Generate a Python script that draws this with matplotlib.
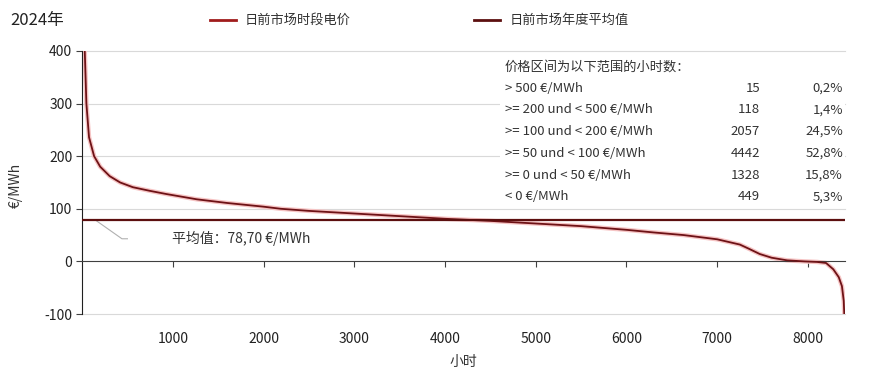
import matplotlib
matplotlib.use("Agg")
import matplotlib.pyplot as plt

plt.rcParams['font.family'] = ['Noto Sans CJK SC', 'DejaVu Sans']

# price duration curve, hours sorted by price
hours = [0, 15, 30, 48, 77, 133, 200, 305, 420, 560, 750, 930, 1265, 1600,
         2000, 2190, 2500, 3000, 3500, 4000, 4500, 5000, 5500, 6000, 6300,
         6632, 7000, 7250, 7350, 7470, 7600, 7770, 7960, 8100, 8200, 8280,
         8340, 8375, 8395, 8409]
prices = [800, 500, 400, 300, 236, 200, 180, 162, 150, 141, 134, 128, 118, 111,
          104, 100, 96, 91, 86, 81, 77, 72, 67, 60, 55,
          50, 42, 32, 24, 14, 7, 2, 0, -1, -3, -15,
          -30, -47, -75, -135]
avg_price = 78.70

bands = ['> 500 €/MWh', '>= 200 und < 500 €/MWh', '>= 100 und < 200 €/MWh',
         '>= 50 und < 100 €/MWh', '>= 0 und < 50 €/MWh', '< 0 €/MWh']
band_hours = [15, 118, 2057, 4442, 1328, 449]
band_share = ['0,2%', '1,4%', '24,5%', '52,8%', '15,8%', '5,3%']

xticks = [1000, 2000, 3000, 4000, 5000, 6000, 7000, 8000]
yticks = [-100, 0, 100, 200, 300, 400]

line_col = '#6e1216'
avg_col = '#5c0f0f'
txt = '#333333'

fig = plt.figure(figsize=(8.69, 3.69), dpi=100)
ax = fig.add_axes([0.0944, 0.149, 0.878, 0.713])

ax.set_xlim(0, sum(band_hours))
ax.set_ylim(-100, 400)
for y in [100, 200, 300, 400, -100]:
    ax.axhline(y, color='#d9d9d9', lw=0.8, zorder=0, clip_on=False)

ax.plot(hours, prices, color='#f6c4c4', lw=3.2, solid_capstyle='butt', zorder=2)
ax.plot(hours, prices, color=line_col, lw=1.3, zorder=3)
ax.axhline(avg_price, color=avg_col, lw=1.6, zorder=4)

for s in ['top', 'right']:
    ax.spines[s].set_visible(False)
ax.spines['bottom'].set_position(('data', 0))
ax.spines['bottom'].set_color('#404040')
ax.spines['left'].set_color('#202020')

ax.set_xticks(xticks)
ax.set_xticklabels([str(t) for t in xticks])
ax.set_yticks(yticks)
ax.set_yticklabels([str(t) for t in yticks])
ax.tick_params(axis='x', direction='out', length=4, pad=47, labelsize=10,
               colors='#404040', labelcolor='#222222')
ax.tick_params(axis='y', direction='out', length=4, pad=3, labelsize=10,
               colors='#404040', labelcolor='#222222')

ax.set_xlabel('小时', fontsize=10, color=txt, labelpad=6)
ax.set_ylabel('€/MWh', fontsize=10, color=txt, labelpad=6)
ax.yaxis.set_label_coords(-0.078, 0.49)

# average label with leader line
ax.plot([160, 440, 500], [77, 43, 43], color='#b0b0b0', lw=0.8, zorder=1)
ax.text(990, 43, '平均值：78,70 €/MWh', fontsize=10, color=txt, va='center')

# table of hours per price band
fig.patches.append(plt.Rectangle((500 / 869, 1 - 206 / 369), 345 / 869, 152 / 369,
                                 transform=fig.transFigure, facecolor='white',
                                 edgecolor='none', zorder=5))
fig.text(505 / 869, 1 - 67 / 369, '价格区间为以下范围的小时数：', fontsize=9.5,
         color=txt, va='center', zorder=6)
for i, (b, h, s) in enumerate(zip(bands, band_hours, band_share)):
    y = 1 - (88 + i * 21.8) / 369
    fig.text(505 / 869, y, b, fontsize=9.5, color=txt, va='center', zorder=6)
    fig.text(760 / 869, y, str(h), fontsize=9.5, color=txt, va='center',
             ha='right', zorder=6)
    fig.text(843 / 869, y, s, fontsize=9.5, color=txt, va='center',
             ha='right', zorder=6)

# title and legend
fig.text(10 / 869, 1 - 20 / 369, '2024年', fontsize=12, color='#222222', va='center')
fig.lines.append(plt.Line2D([210 / 869, 236 / 869], [1 - 20 / 369] * 2,
                            transform=fig.transFigure, color='#a01c1c', lw=2))
fig.text(245 / 869, 1 - 20 / 369, '日前市场时段电价', fontsize=9.5, color=txt, va='center')
fig.lines.append(plt.Line2D([474 / 869, 500 / 869], [1 - 20 / 369] * 2,
                            transform=fig.transFigure, color=avg_col, lw=2))
fig.text(510 / 869, 1 - 20 / 369, '日前市场年度平均值', fontsize=9.5, color=txt, va='center')

fig.savefig('out.png', dpi=100, facecolor='white')
